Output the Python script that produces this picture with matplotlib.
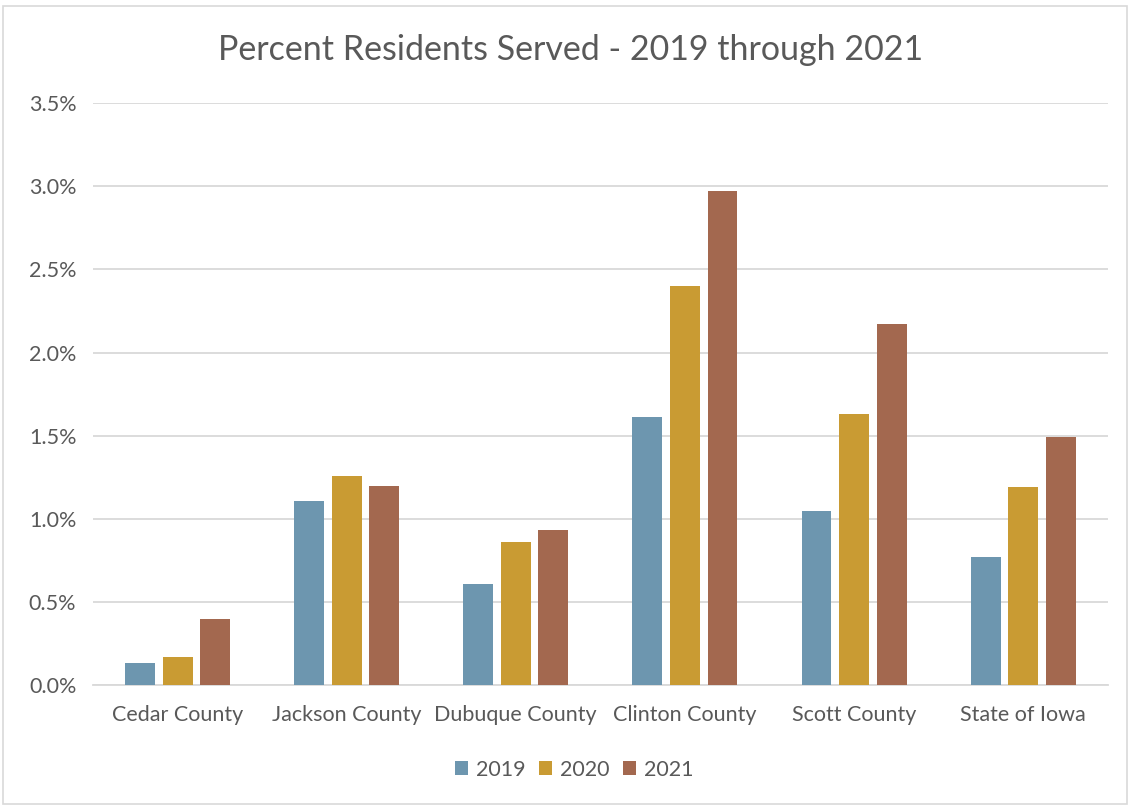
import numpy as np
import matplotlib
matplotlib.use("Agg")
import matplotlib.pyplot as plt
from matplotlib.patches import Rectangle
from matplotlib.ticker import FuncFormatter

# data (percent)
counties = ["Cedar County", "Jackson County", "Dubuque County",
            "Clinton County", "Scott County", "State of Iowa"]
years = ["2019", "2020", "2021"]
pct_2019 = [0.13, 1.11, 0.61, 1.61, 1.05, 0.77]
pct_2020 = [0.17, 1.26, 0.86, 2.40, 1.63, 1.19]
pct_2021 = [0.40, 1.20, 0.93, 2.97, 2.17, 1.49]
colors = ["#6D96AF", "#C99B33", "#A3684F"]

plt.rcParams["font.family"] = ["Lato", "DejaVu Sans"]
text_color = "#595959"

fig = plt.figure(figsize=(11.3, 8.06), dpi=100)
ax = fig.add_axes([0.0823, 0.150, 0.898, 0.722])

x = np.arange(len(counties))
width = 0.177
pitch = 0.222
for i, (vals, yr) in enumerate(zip([pct_2019, pct_2020, pct_2021], years)):
    ax.bar(x + (i - 1) * pitch, vals, width, color=colors[i], label=yr,
           linewidth=0, zorder=3)

ax.set_xlim(-0.5, len(counties) - 0.5)
ax.set_ylim(0, 3.5)
ax.set_yticks(np.arange(0, 3.51, 0.5))
ax.yaxis.set_major_formatter(FuncFormatter(lambda v, p: "%.1f%%" % v))
ax.set_xticks(x)
ax.set_xticklabels(counties)
ax.grid(axis="y", color="#D9D9D9", linewidth=1.3, zorder=0)
for s in ["top", "right", "left"]:
    ax.spines[s].set_visible(False)
ax.spines["bottom"].set_color("#D9D9D9")
ax.spines["bottom"].set_linewidth(1.3)
ax.tick_params(axis="both", length=0, colors=text_color, labelsize=15.5)
ax.tick_params(axis="x", pad=14)
ax.tick_params(axis="y", pad=12)

fig.text(0.505, 0.938, "Percent Residents Served - 2019 through 2021",
         ha="center", va="center", fontsize=24.5, color=text_color)

leg = fig.legend(loc="center", bbox_to_anchor=(0.508, 0.045), ncol=3,
                 frameon=False, fontsize=15.5, handlelength=0.6, handleheight=0.6,
                 handletextpad=0.35, columnspacing=0.65)
for t in leg.get_texts():
    t.set_color(text_color)

# chart border
fig.patches.append(Rectangle((0.003, 0.003), 0.994, 0.99, transform=fig.transFigure,
                             fill=False, edgecolor="#D9D9D9", linewidth=1.2))

fig.savefig("out.png", dpi=100)
